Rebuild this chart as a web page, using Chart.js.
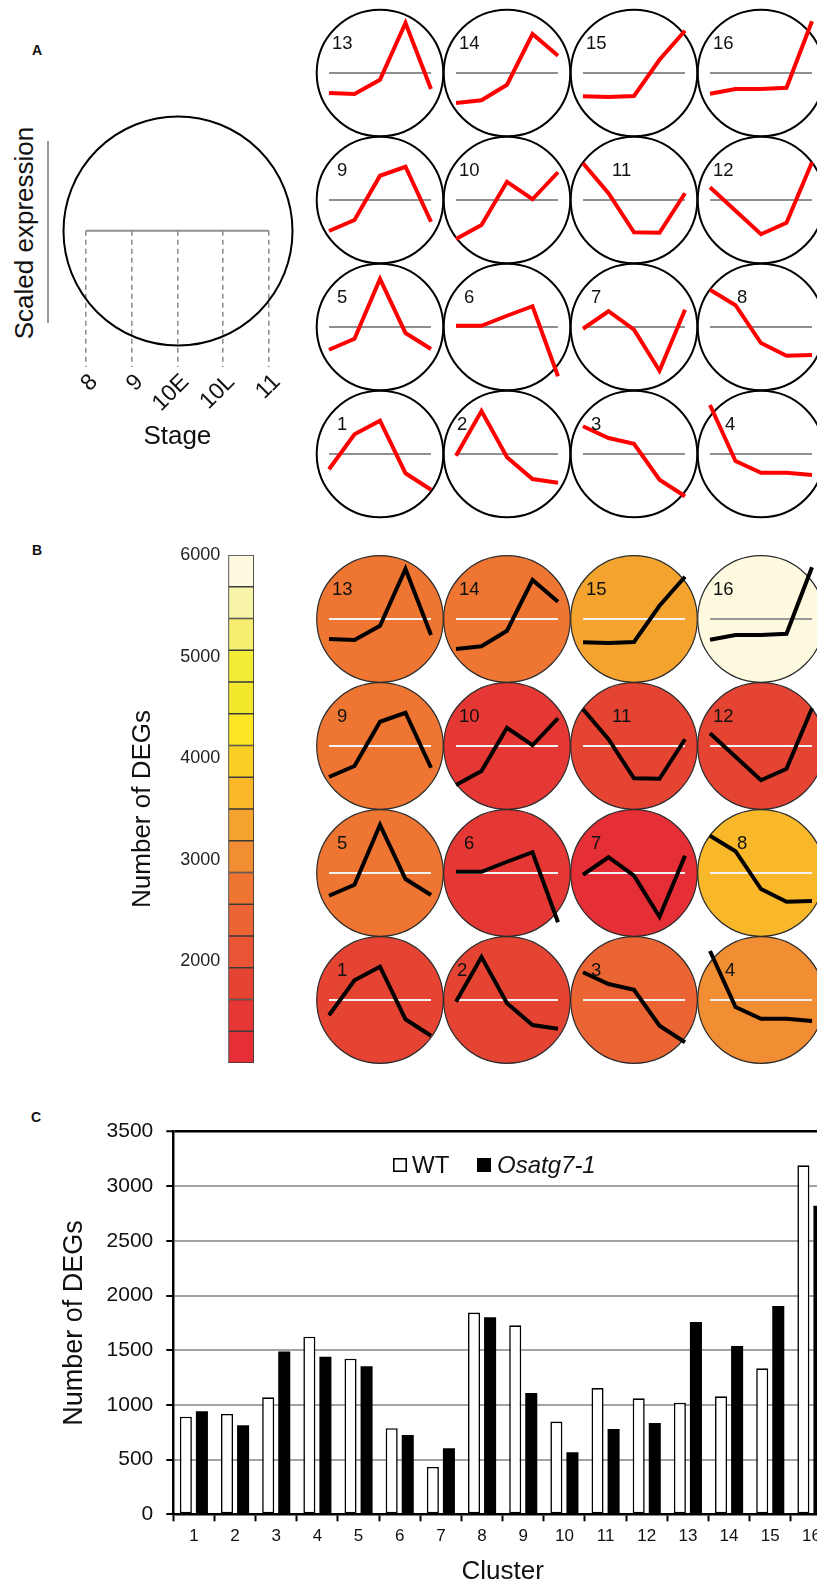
<!DOCTYPE html>
<html>
<head>
<meta charset="utf-8">
<script src="https://cdn.jsdelivr.net/npm/chart.js@4.4.1/dist/chart.umd.min.js"></script>
<style>
  html, body { margin: 0; padding: 0; background: #fff; overflow: hidden; }
  #fig { position: relative; width: 817px; height: 1587px; overflow: hidden; background: #fff;
         font-family: "Liberation Sans", Arial, Helvetica, sans-serif; color: #111; }
  #fig canvas { position: absolute; }
  .tag { position: absolute; font-weight: bold; font-size: 14px; transform: translate(-50%, -50%); }
  .vtitle { position: absolute; font-size: 26px; white-space: nowrap; transform: translate(-50%, -50%) rotate(-90deg); }
  .vbar { position: absolute; background: #9a9a9a; }
</style>
</head>
<body>
<div id="fig">
  <div class="tag" style="left:37px; top:50px;">A</div>
  <div class="tag" style="left:37px; top:550px;">B</div>
  <div class="tag" style="left:36px; top:1117px;">C</div>
  <div class="vtitle" style="left:24px; top:233px;">Scaled expression</div>
  <div class="vbar" style="left:47px; top:141px; width:2px; height:182px;"></div>
</div>
<script>
// ---- stages of development (x axis of every profile) ----
const stages = ['8', '9', '10E', '10L', '11'];

// ---- scaled expression profile of each cluster ----
const cluster1  = [-0.61,  0.79,  1.33, -0.77, -1.43];
const cluster2  = [-0.07,  1.72, -0.13, -1.00, -1.15];
const cluster3  = [ 1.11,  0.64,  0.41, -1.03, -1.69];
const cluster4  = [ 1.96, -0.28, -0.75, -0.75, -0.84];
const cluster5  = [-0.91, -0.47,  1.92, -0.24, -0.88];
const cluster6  = [ 0.05,  0.05,  0.45,  0.83, -1.97];
const cluster7  = [-0.07,  0.63, -0.11, -1.75,  0.69];
const cluster8  = [ 1.49,  0.87, -0.64, -1.15, -1.12];
const cluster9  = [-1.24, -0.80,  0.97,  1.33, -0.87];
const cluster10 = [-1.56, -1.00,  0.73,  0.03,  1.11];
const cluster11 = [ 1.47,  0.27, -1.29, -1.31,  0.27];
const cluster12 = [ 0.51, -0.43, -1.37, -0.91,  1.51];
const cluster13 = [-0.80, -0.84, -0.27,  2.00, -0.64];
const cluster14 = [-1.20, -1.09, -0.47,  1.56,  0.69];
const cluster15 = [-0.93, -0.96, -0.92,  0.53,  1.69];
const cluster16 = [-0.83, -0.64, -0.64, -0.59,  2.07];

// ---- number of DEGs per cluster ----
const clusters = ['1','2','3','4','5','6','7','8','9','10','11','12','13','14','15','16'];
const wtDEGs  = [893, 918, 1070, 1625, 1424, 787, 433, 1845, 1729, 848, 1155, 1061, 1021, 1079, 1335, 3192];
const mutDEGs = [942, 814, 1490, 1442, 1354, 726, 604, 1802, 1110, 567,  780,  835, 1759, 1540, 1906, 2823];
const seriesNames = ['WT', 'Osatg7-1'];
const degTicks = [0, 500, 1000, 1500, 2000, 2500, 3000, 3500];

// ---- colour key for the number of DEGs (low to high) ----
const colorSteps = [1000, 1312.5, 1625, 1937.5, 2250, 2562.5, 2875, 3187.5, 3500,
                    3812.5, 4125, 4437.5, 4750, 5062.5, 5375, 5687.5, 6000];
const colorRamp = ['#E52E35', '#E53834', '#E64433', '#E85534', '#EA6533', '#EE7632',
                   '#F18E33', '#F4A42E', '#F9B82A', '#FBD026', '#FCE626', '#F3E82B',
                   '#F4EB36', '#F6EE70', '#F9F5A8', '#FDFAE0'];
const colorTicks = [2000, 3000, 4000, 5000, 6000];

const profiles = { 1: cluster1, 2: cluster2, 3: cluster3, 4: cluster4, 5: cluster5, 6: cluster6,
  7: cluster7, 8: cluster8, 9: cluster9, 10: cluster10, 11: cluster11, 12: cluster12,
  13: cluster13, 14: cluster14, 15: cluster15, 16: cluster16 };

// layout of the disc grid (top row first) and cell geometry
const gridRows = [[13, 14, 15, 16], [9, 10, 11, 12], [5, 6, 7, 8], [1, 2, 3, 4]];
const colX = [380.3, 507.3, 634.3, 761.3];
const rowYA = [73.3, 200.3, 327.3, 454.3];
const rowYB = [618.5, 745.5, 872.5, 999.5];
const labelDx = { 2: -50, 4: -36, 8: -24, 11: -22 };

Chart.defaults.font.family = '"Liberation Sans", Arial, Helvetica, sans-serif';
Chart.defaults.color = '#111';
const plainNumber = v => String(v);

const fig = document.getElementById('fig');
function addCanvas(left, top, w, h) {
  const c = document.createElement('canvas');
  c.width = w; c.height = h;
  c.style.left = left + 'px'; c.style.top = top + 'px';
  c.style.width = w + 'px'; c.style.height = h + 'px';
  fig.appendChild(c);
  return c;
}

function totalBin(id) {
  const v = wtDEGs[id - 1] + mutDEGs[id - 1];
  let k = 0;
  while (k < colorRamp.length - 1 && v >= colorSteps[k + 1]) k++;
  return k;
}

// disc behind each profile, and the cluster number on top
const discPlugin = {
  id: 'disc',
  beforeDatasetsDraw(chart, args, o) {
    const { ctx, chartArea: a } = chart;
    const cx = (a.left + a.right) / 2, cy = (a.top + a.bottom) / 2;
    ctx.save();
    ctx.beginPath();
    ctx.arc(cx, cy, o.r, 0, Math.PI * 2);
    if (o.fill) { ctx.fillStyle = o.fill; ctx.fill(); }
    ctx.lineWidth = o.lineWidth;
    ctx.strokeStyle = o.stroke;
    ctx.stroke();
    ctx.restore();
  },
  afterDatasetsDraw(chart, args, o) {
    if (!o.label) return;
    const { ctx, chartArea: a } = chart;
    const cx = (a.left + a.right) / 2, cy = (a.top + a.bottom) / 2;
    ctx.save();
    ctx.font = '18.5px "Liberation Sans", Arial, sans-serif';
    ctx.fillStyle = '#111';
    ctx.textBaseline = 'alphabetic';
    const dx = labelDx[o.label] !== undefined ? labelDx[o.label] : (o.label >= 10 ? -48 : -43);
    ctx.fillText(String(o.label), cx + dx, cy - 24);
    ctx.restore();
  }
};

function profileDisc(id, cx, cy, panel) {
  const S = 160, half = S / 2;
  const cv = addCanvas(cx - half, cy - half, S, S);
  const fill = panel === 'B' ? colorRamp[totalBin(id)] : null;
  const light = panel === 'B' && totalBin(id) >= 12;
  const midColor = panel === 'A' ? '#8f8f8f' : (light ? '#9a9a9a' : '#f2f2f2');
  new Chart(cv, {
    type: 'line',
    data: {
      labels: stages,
      datasets: [
        { data: profiles[id], borderColor: panel === 'A' ? '#ff0000' : '#000000', borderWidth: 4,
          pointRadius: 0, tension: 0, borderJoinStyle: 'miter', borderCapStyle: 'butt', clip: false, order: 0 },
        { data: stages.map(() => 0), borderColor: midColor, borderWidth: 2,
          pointRadius: 0, clip: false, order: 1 }
      ]
    },
    options: {
      responsive: false, animation: false, events: [],
      layout: { padding: { left: half - 51, right: half - 51, top: half - 75, bottom: half - 75 } },
      scales: { x: { display: false, offset: false }, y: { display: false, min: -3, max: 3 } },
      plugins: {
        legend: { display: false }, tooltip: { enabled: false },
        disc: { r: 63.3, fill: fill, stroke: panel === 'A' ? '#000' : '#2a2a2a',
                lineWidth: panel === 'A' ? 2 : 1.2, label: id }
      }
    },
    plugins: [discPlugin]
  });
}

// ---- Panel A: stage key ----
(function () {
  const cv = addCanvas(0, 0, 300, 470);
  new Chart(cv, {
    type: 'line',
    data: { labels: stages,
      datasets: [{ data: stages.map(() => 0), borderColor: '#8f8f8f', borderWidth: 2, pointRadius: 0, clip: false }] },
    options: {
      responsive: false, animation: false, events: [],
      layout: { padding: { left: 86, right: 31.3, top: 230.7, bottom: 17.4 } },
      scales: {
        x: {
          offset: false,
          grid: { display: true, drawOnChartArea: true, drawTicks: false, color: '#8f8f8f', lineWidth: 1.6, borderDash: [5, 4] },
          border: { display: false, dash: [5, 4] },
          ticks: { autoSkip: false, minRotation: 45, maxRotation: 45, font: { size: 23 }, color: '#111', padding: 2, labelOffset: 8 },
          title: { display: true, text: 'Stage', font: { size: 26 }, color: '#111', padding: 0 },
          afterFit(s) { s.height = 85.9; }
        },
        y: { display: false, min: -1, max: 0 }
      },
      plugins: { legend: { display: false }, tooltip: { enabled: false } }
    },
    plugins: [{
      id: 'keyDisc',
      beforeDatasetsDraw(chart) {
        const ctx = chart.ctx;
        ctx.save();
        ctx.beginPath();
        ctx.arc(178, 231, 114.5, 0, Math.PI * 2);
        ctx.lineWidth = 2; ctx.strokeStyle = '#000'; ctx.stroke();
        ctx.restore();
      }
    }]
  });
})();

// ---- Panels A and B: cluster profiles ----
gridRows.forEach((row, r) => row.forEach((id, c) => profileDisc(id, colX[c], rowYA[r], 'A')));
gridRows.forEach((row, r) => row.forEach((id, c) => profileDisc(id, colX[c], rowYB[r], 'B')));

// ---- Panel B: colour key ----
(function () {
  const cv = addCanvas(127, 535, 131, 548);
  new Chart(cv, {
    type: 'bar',
    data: {
      labels: [''],
      datasets: colorRamp.map((col, k) => ({
        data: [[colorSteps[k], colorSteps[k + 1]]], backgroundColor: col,
        borderColor: '#3a3a3a', borderWidth: 1.2, borderSkipped: false, grouped: false
      }))
    },
    options: {
      responsive: false, animation: false, events: [],
      layout: { padding: { left: 0, right: 4, top: 20, bottom: 20 } },
      datasets: { bar: { categoryPercentage: 1, barPercentage: 1 } },
      scales: {
        x: { display: false },
        y: {
          min: 1000, max: 6000,
          afterBuildTicks(s) { s.ticks = colorTicks.map(v => ({ value: v })); },
          grid: { display: false, drawTicks: false },
          border: { display: false },
          ticks: { font: { size: 18 }, color: '#222', padding: 8, callback: plainNumber },
          title: { display: true, text: 'Number of DEGs', font: { size: 26 }, color: '#111', padding: 0 },
          afterFit(s) { s.width = 101.3; }
        }
      },
      plugins: { legend: { display: false }, tooltip: { enabled: false } }
    }
  });
})();

// ---- Panel C: DEGs per cluster ----
(function () {
  const cv = addCanvas(0, 1090, 880, 497);
  new Chart(cv, {
    type: 'bar',
    data: {
      labels: clusters,
      datasets: [
        { label: seriesNames[0], data: wtDEGs, backgroundColor: '#ffffff', borderColor: '#000', borderWidth: 1.6, borderSkipped: false },
        { label: seriesNames[1], data: mutDEGs, backgroundColor: '#000000', borderColor: '#000', borderWidth: 0 }
      ]
    },
    options: {
      responsive: false, animation: false, events: [],
      layout: { padding: { left: 58.8, right: 48, top: 41.7, bottom: 0 } },
      datasets: { bar: { categoryPercentage: 0.78, barPercentage: 0.75 } },
      scales: {
        x: {
          grid: { display: true, drawOnChartArea: false, drawTicks: true, tickLength: 7, tickColor: '#000', tickWidth: 2, offset: true },
          border: { color: '#000', width: 2.5 },
          ticks: { font: { size: 17 }, color: '#111', padding: 5 },
          title: { display: true, text: 'Cluster', font: { size: 26 }, color: '#111', padding: 0 },
          afterFit(s) { s.height = 72.7; }
        },
        y: {
          min: 0, max: 3500,
          afterBuildTicks(s) { s.ticks = degTicks.map(v => ({ value: v })); },
          grid: {
            color: c => (c.tick && c.tick.value === 3500 ? '#000' : '#a3a3a3'),
            lineWidth: c => (c.tick && c.tick.value === 3500 ? 2.5 : 2),
            tickColor: '#000', tickLength: 7, tickWidth: 2
          },
          border: { color: '#000', width: 2.5 },
          ticks: { font: { size: 21 }, color: '#111', padding: 13, callback: plainNumber },
          title: { display: true, text: 'Number of DEGs', font: { size: 27 }, color: '#111', padding: 0 },
          afterFit(s) { s.width = 114.5; }
        }
      },
      plugins: { legend: { display: false }, tooltip: { enabled: false } }
    },
    plugins: [{
      id: 'seriesKey',
      afterDatasetsDraw(chart) {
        const { ctx, chartArea: a } = chart;
        const ds = chart.data.datasets;
        const top = a.top + 26.3, base = a.top + 41.4;
        ctx.save();
        // WT
        ctx.fillStyle = ds[0].backgroundColor; ctx.fillRect(a.left + 220.5, top + 0.8, 12.4, 12.4);
        ctx.lineWidth = 1.6; ctx.strokeStyle = '#000'; ctx.strokeRect(a.left + 220.5, top + 0.8, 12.4, 12.4);
        ctx.fillStyle = '#111'; ctx.font = '24px "Liberation Sans", Arial, sans-serif';
        ctx.textBaseline = 'alphabetic';
        ctx.fillText(ds[0].label, a.left + 238.7, base);
        // mutant
        ctx.fillStyle = ds[1].backgroundColor; ctx.fillRect(a.left + 303.7, top, 14, 14);
        ctx.fillStyle = '#111'; ctx.font = 'italic 24px "Liberation Sans", Arial, sans-serif';
        ctx.fillText(ds[1].label, a.left + 323.7, base);
        ctx.restore();
      }
    }]
  });
})();
</script>
</body>
</html>
